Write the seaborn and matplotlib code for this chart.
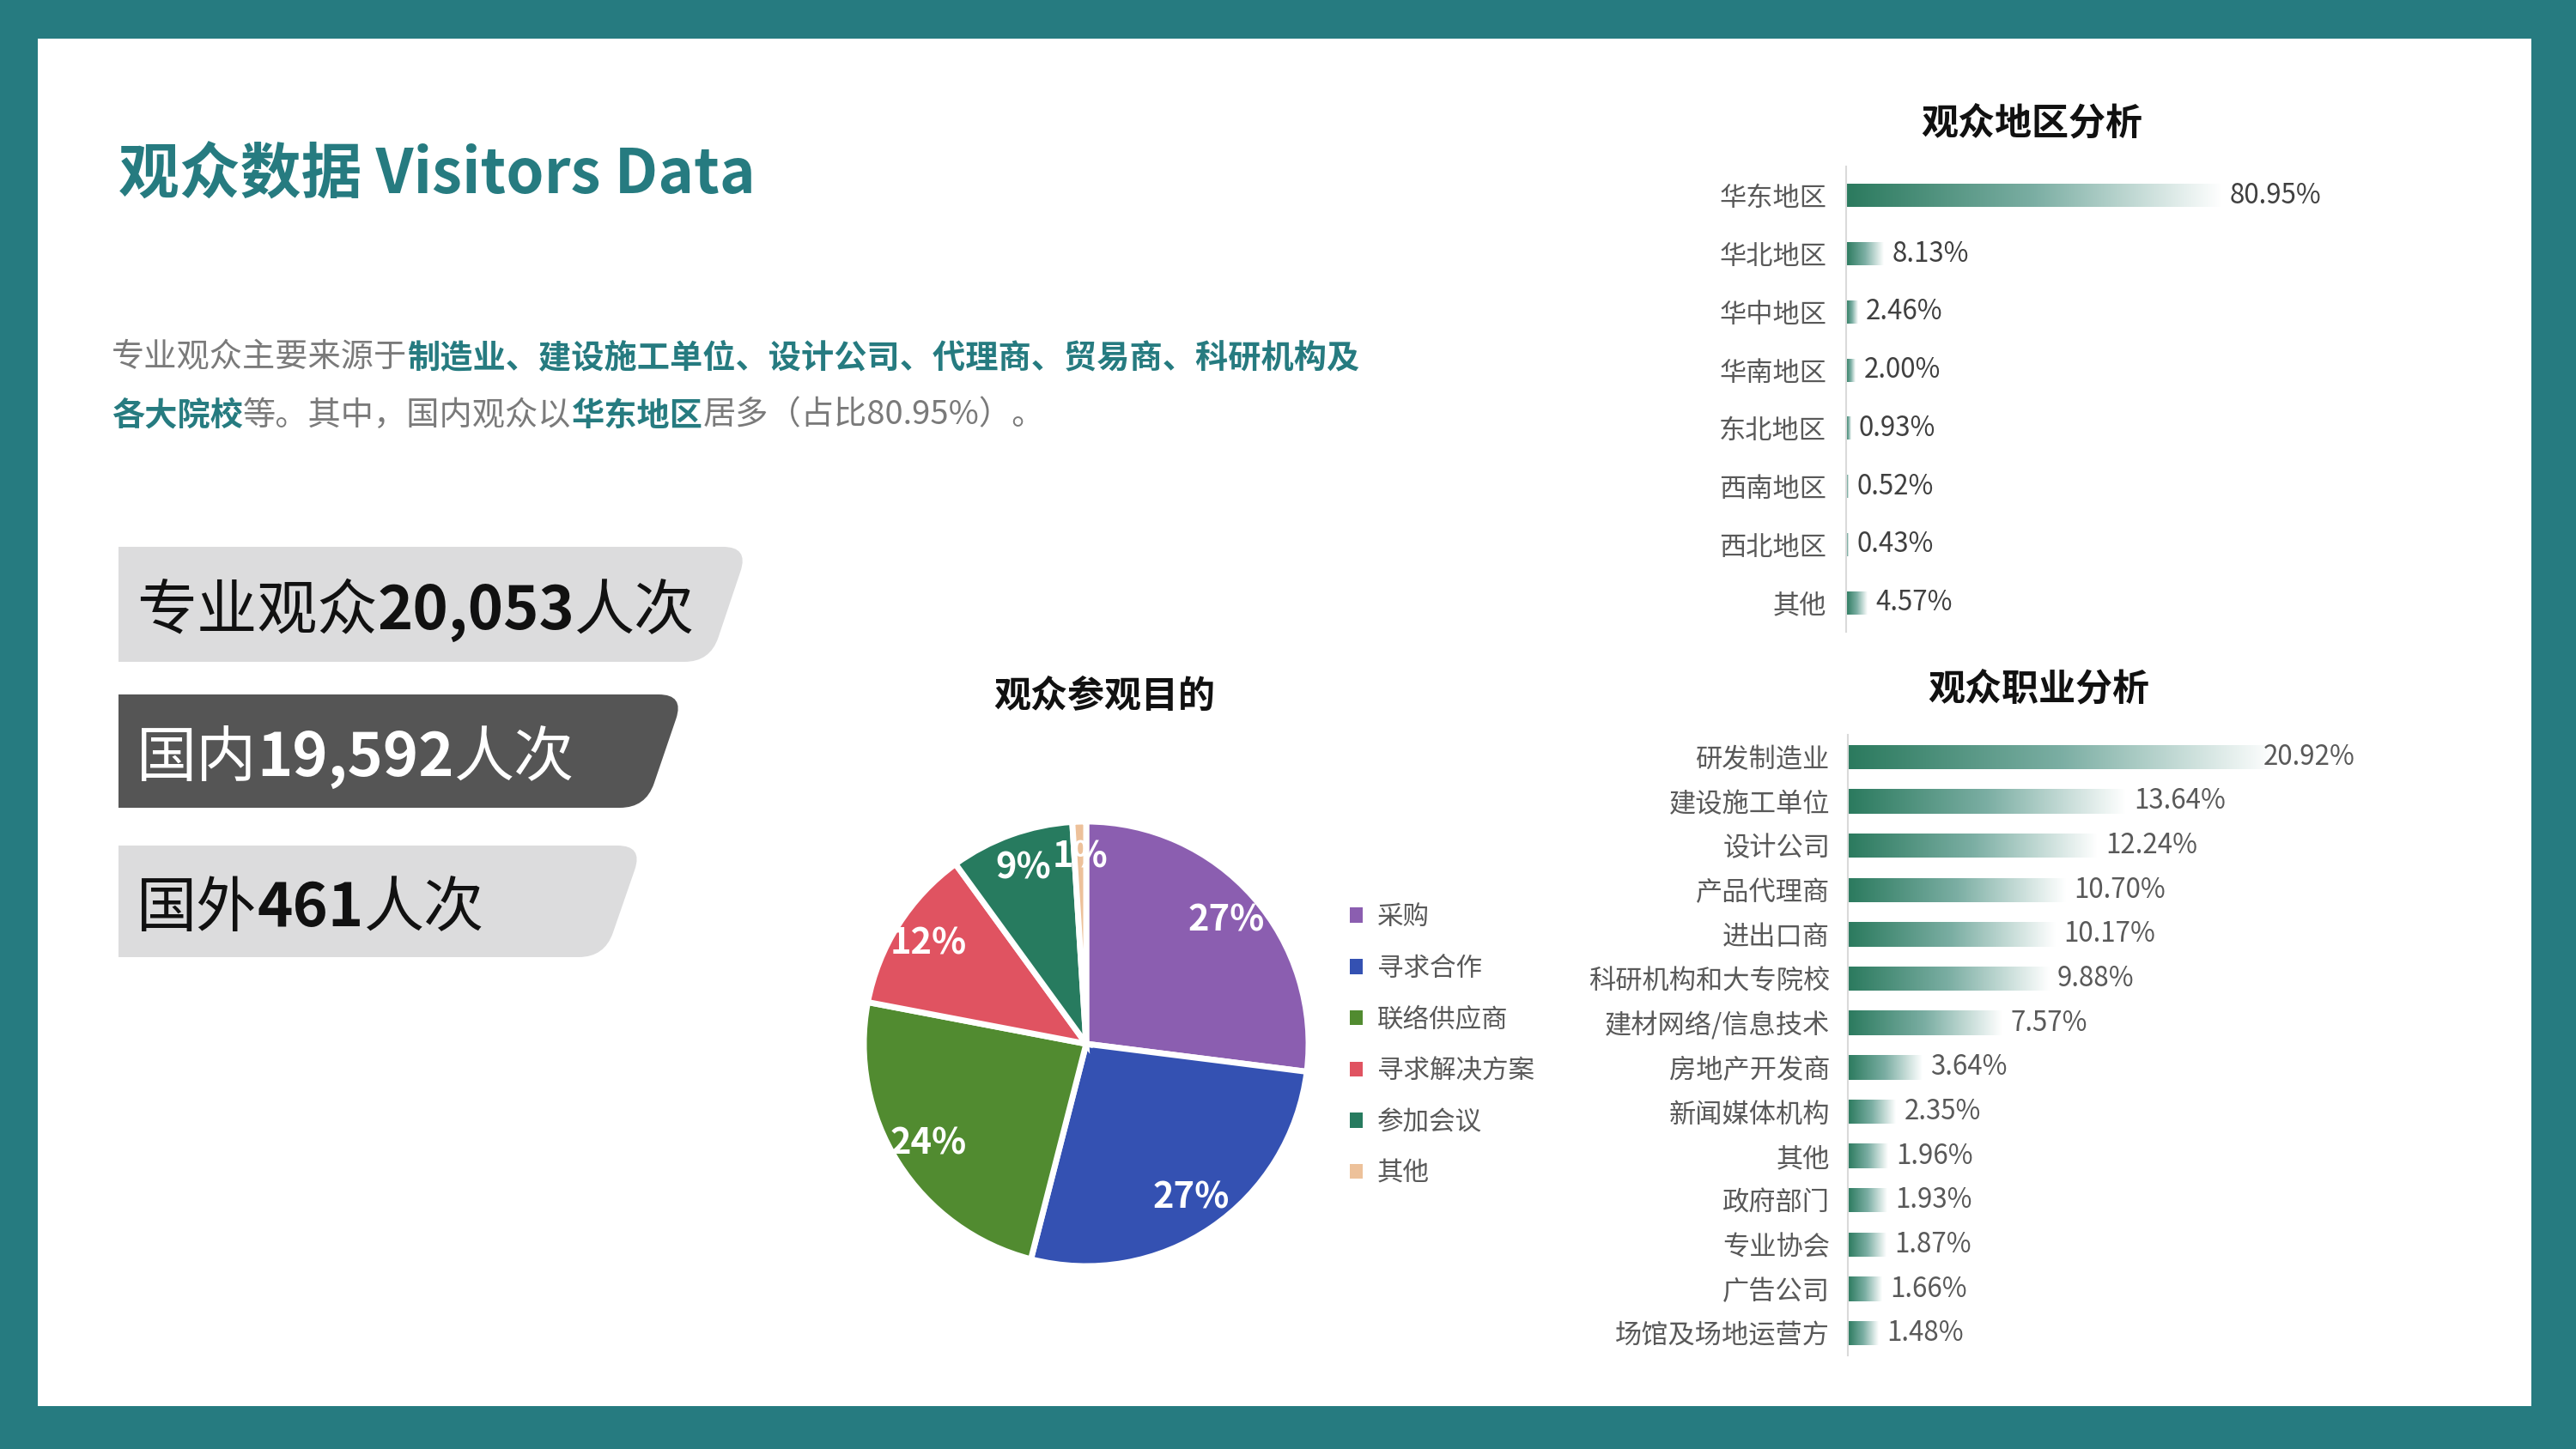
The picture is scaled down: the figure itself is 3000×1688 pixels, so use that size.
"""Visitors data summary slide: stat boxes, purpose pie and two gradient bar charts."""

import numpy as np
import matplotlib
matplotlib.use("Agg")
import matplotlib.pyplot as plt
from matplotlib.path import Path as MPath
from matplotlib.patches import PathPatch, Rectangle, Patch
from matplotlib.colors import LinearSegmentedColormap
import seaborn as sns

# ---- data -----------------------------------------------------------------
REGIONS = ["华东地区", "华北地区", "华中地区", "华南地区", "东北地区", "西南地区", "西北地区", "其他"]
REGION_SHARE = [80.95, 8.13, 2.46, 2.00, 0.93, 0.52, 0.43, 4.57]

JOBS = ["研发制造业", "建设施工单位", "设计公司", "产品代理商", "进出口商", "科研机构和大专院校",
        "建材网络/信息技术", "房地产开发商", "新闻媒体机构", "其他", "政府部门", "专业协会",
        "广告公司", "场馆及场地运营方"]
JOB_SHARE = [20.92, 13.64, 12.24, 10.70, 10.17, 9.88, 7.57, 3.64, 2.35, 1.96, 1.93, 1.87, 1.66, 1.48]

PURPOSES = ["采购", "寻求合作", "联络供应商", "寻求解决方案", "参加会议", "其他"]
PURPOSE_SHARE = [27, 27, 24, 12, 9, 1]
PURPOSE_COLORS = ["#8B5EB0", "#3451B2", "#518B30", "#E05361", "#277B5F", "#EDC19A"]

STAT_LABELS = ["专业观众", "国内", "国外"]
STAT_VALUES = ["20,053", "19,592", "461"]
STAT_UNIT = "人次"

TEAL = "#267B80"
GRAY_TEXT = "#595959"
W, H = 3000, 1688

sns.set_theme(style="white")
plt.rcParams["font.family"] = ["Noto Sans CJK SC", "DejaVu Sans"]

fig = plt.figure(figsize=(W / 100, H / 100), dpi=100, facecolor=TEAL)


def px_axes(left, top, width, height):
    """Add an axes placed in figure pixel coordinates (y measured from top)."""
    return fig.add_axes([left / W, 1 - (top + height) / H, width / W, height / H])


bg = px_axes(0, 0, W, H)
bg.set_xlim(0, W)
bg.set_ylim(H, 0)
bg.axis("off")
bg.add_patch(Rectangle((44, 45), 2904, 1593, facecolor="white", edgecolor="none"))


def rich_line(x, y, parts, size):
    """Draw text segments one after another on a shared line."""
    prev = None
    for s, color, weight in parts:
        if prev is None:
            prev = bg.text(x, y, s, color=color, fontsize=size, fontweight=weight,
                           ha="left", va="center")
        else:
            prev = bg.annotate(s, xy=(1, 0.5), xycoords=prev, color=color, fontsize=size,
                               fontweight=weight, ha="left", va="center")
    return prev


# ---- header and paragraph -------------------------------------------------
bg.text(138, 204, "观众数据 Visitors Data", color=TEAL, fontsize=51, fontweight="bold",
        ha="left", va="center")

rich_line(130, 417, [("专业观众主要来源于", "#7a7a7a", "normal"),
                     ("制造业、建设施工单位、设计公司、代理商、贸易商、科研机构及", TEAL, "bold")], 27.5)
rich_line(130, 484, [("各大院校", TEAL, "bold"),
                     ("等。其中，国内观众以", "#7a7a7a", "normal"),
                     ("华东地区", TEAL, "bold"),
                     ("居多（占比80.95%）。", "#7a7a7a", "normal")], 27.5)


# ---- stat boxes -----------------------------------------------------------
def slanted_box(x0, y0, xr, y1, slant=45, r=30, color="#DCDCDD"):
    h = y1 - y0
    d = np.array([-slant, h]) / np.hypot(slant, h)
    top_c = np.array([xr, y0])
    bot_c = np.array([xr - slant, y1])
    verts = [(x0, y0), (xr - r, y0), tuple(top_c), tuple(top_c + r * d),
             tuple(bot_c - r * d), tuple(bot_c), (xr - slant - r, y1), (x0, y1), (x0, y0)]
    codes = [MPath.MOVETO, MPath.LINETO, MPath.CURVE3, MPath.CURVE3,
             MPath.LINETO, MPath.CURVE3, MPath.CURVE3, MPath.LINETO, MPath.CLOSEPOLY]
    bg.add_patch(PathPatch(MPath(verts, codes), facecolor=color, edgecolor="none"))


box_rows = [(637, 771, 872, "#DCDCDD", "#111111"),
            (809, 941, 797, "#555555", "white"),
            (985, 1115, 749, "#DCDCDD", "#111111")]
for (y0, y1, xr, fc, tc), label, value in zip(box_rows, STAT_LABELS, STAT_VALUES):
    slanted_box(138, y0, xr, y1, color=fc)
    rich_line(159, (y0 + y1) / 2 + 9, [(label, tc, "normal"), (value, tc, "bold"),
                                       (STAT_UNIT, tc, "normal")], 50.5)


# ---- purpose pie ----------------------------------------------------------
cx, cy, rad = 1265, 1216, 259
half = rad * 1.1
ax_pie = px_axes(cx - half, cy - half, 2 * half, 2 * half)
wedges, _, autotexts = ax_pie.pie(
    PURPOSE_SHARE, colors=PURPOSE_COLORS, startangle=90, counterclock=False,
    autopct="%d%%", pctdistance=0.84,
    wedgeprops=dict(edgecolor="white", linewidth=5),
    textprops=dict(color="white", fontsize=30, fontweight="bold"))
ax_pie.set_xlim(-1.1, 1.1)
ax_pie.set_ylim(-1.1, 1.1)
ax_pie.set_facecolor("none")

bg.text(1286, 811, "观众参观目的", fontsize=31, fontweight="bold", color="#111111",
        ha="center", va="center")

handles = [Patch(facecolor=c, edgecolor="none") for c in PURPOSE_COLORS]
ax_pie.legend(handles, PURPOSES, loc="upper left", bbox_to_anchor=(1572, 1053),
              bbox_transform=bg.transData, frameon=False, borderpad=0,
              borderaxespad=0, handlelength=0.5, handleheight=0.5,
              handletextpad=0.55, labelspacing=0.94, fontsize=22,
              labelcolor=GRAY_TEXT)

# ---- gradient bar charts --------------------------------------------------
bar_cmap = LinearSegmentedColormap.from_list("fade", ["#2B7A5E", "#7BAEA3", "#FFFFFF"])
LABEL_PX = 112   # approximate width of a value label in pixels


def gradient_bars(ax, names, values, width, xmax, width_px, tick_pad, label_color):
    sns.barplot(x=values, y=names, orient="h", color="#2B7A5E", width=width, ax=ax)
    grad = np.linspace(0, 1, 256).reshape(1, -1)
    for bar in ax.patches:
        x, y = bar.get_x(), bar.get_y()
        w, h = bar.get_width(), bar.get_height()
        bar.set_facecolor("none")
        bar.set_edgecolor("none")
        im = ax.imshow(grad, cmap=bar_cmap, aspect="auto", extent=(x, x + w, y + h, y),
                       interpolation="bilinear", zorder=2)
        im.set_clip_path(bar)
    ax.set_xlim(0, xmax)
    ax.set_ylim(len(names) - 0.5, -0.5)
    ax.set_facecolor("none")
    ax.set_xlabel("")
    ax.set_ylabel("")
    ax.set_xticks([])
    sns.despine(ax=ax, top=True, right=True, bottom=True, left=False)
    ax.spines["left"].set_color("#DADADA")
    ax.spines["left"].set_linewidth(1.5)
    ax.tick_params(axis="y", length=0, pad=tick_pad, labelsize=22.5, labelcolor=GRAY_TEXT)

    anns = ax.bar_label(ax.containers[0], labels=[f"{v:.2f}%" for v in values],
                        padding=7, fontsize=22.5, color=label_color)
    # labels that would run past the plot area are pulled back inside it
    px_per_unit = width_px / xmax
    for ann, v in zip(anns, values):
        if v * px_per_unit + 10 + LABEL_PX > width_px:
            ann.xy = (xmax, ann.xy[1])
            ann.xyann = (0, 0)
            ann.set_horizontalalignment("right")


ax_reg = px_axes(2150, 194, 600, 542)
gradient_bars(ax_reg, REGIONS, REGION_SHARE, 0.4, 600 / 5.4, 600, 16.5, "#404040")
bg.text(2366, 143, "观众地区分析", fontsize=31, fontweight="bold", color="#111111",
        ha="center", va="center")

ax_job = px_axes(2152, 856, 591, 723)
gradient_bars(ax_job, JOBS, JOB_SHARE, 0.55, 24.92, 591, 15, GRAY_TEXT)
bg.text(2374, 802, "观众职业分析", fontsize=31, fontweight="bold", color="#111111",
        ha="center", va="center")

fig.savefig("out.png", dpi=100, facecolor=fig.get_facecolor())
